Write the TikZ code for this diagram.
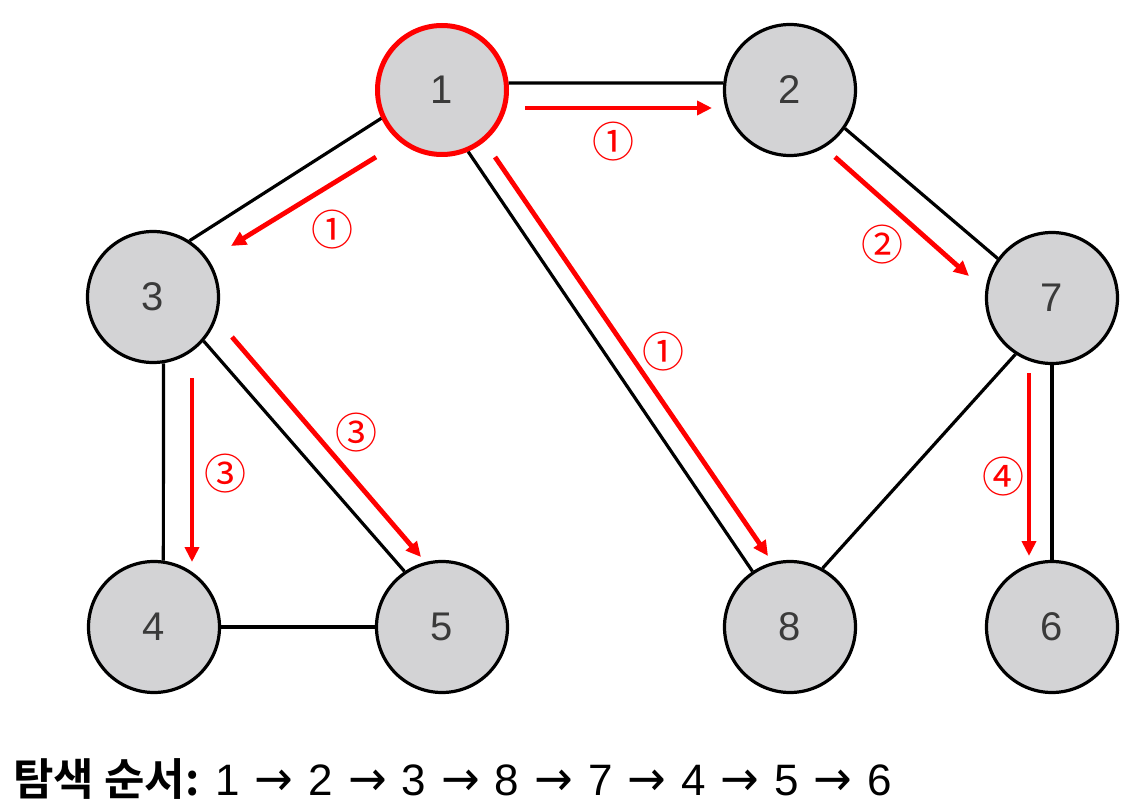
\documentclass[tikz,border=0pt]{standalone}
\usepackage{fontspec}
\setmainfont{Liberation Sans}
\newfontfamily\krfont{Noto Sans CJK KR}[BoldFont={* Bold}]
\newfontfamily\circfont{Noto Sans CJK KR}
\newfontfamily\arrfont{DejaVu Sans}
\usetikzlibrary{arrows.meta}
\definecolor{nodegray}{HTML}{D3D3D5}
\definecolor{digitgray}{HTML}{3A3A3A}
\newcommand{\seqarrow}{\hspace{15pt}{\arrfont\scalebox{1.05}[1.1]{→}}\hspace{15pt}}
\begin{document}
\begin{tikzpicture}[x=1pt,y=-1pt,
  vert/.style={circle,draw=black,line width=3.2pt,fill=nodegray,minimum size=131pt,inner sep=0pt,
    font=\fontsize{40}{40}\selectfont,text=digitgray},
  startvert/.style={vert,draw=red,line width=5pt,minimum size=129pt},
  edge/.style={line width=3.2pt,black},
  visit/.style={red,line width=4.8pt,-{Triangle[length=15pt,width=14pt]}},
  order/.style={red,font=\circfont\fontsize{42}{42}\selectfont,inner sep=0pt}]
\useasboundingbox (0,0) rectangle (1133,805);
% nodes
\node[startvert] (n1) at (442,90) {1};
\node[vert] (n2) at (790,90) {2};
\node[vert] (n3) at (153,297) {3};
\node[vert] (n7) at (1052,298) {7};
\node[vert] (n4) at (154,627) {4};
\node[vert] (n5) at (442,627) {5};
\node[vert] (n8) at (790,627) {8};
\node[vert] (n6) at (1052,627) {6};
% edges
\draw[edge] (n1.6) -- (n2.174);
\draw[edge] (n3.57) -- (n1.205);
\draw[edge] (n1.-67) -- (n8.124);
\draw[edge] (n2.-35) -- (n7.144);
\draw[edge] (n3.-81) -- (n4.82);
\draw[edge] (n3.-41) -- (n5.124);
\draw[edge] (n4.0) -- (n5.180);
\draw[edge] (n7.237) -- (n8.61);
\draw[edge] (n7.-90) -- (n6.90);
% visit arrows
\coordinate (a12s) at (525,108); \coordinate (a12e) at (712,108);
\coordinate (a13s) at (376,157); \coordinate (a13e) at (231,246);
\coordinate (a18s) at (495,157); \coordinate (a18e) at (768,556);
\coordinate (a27s) at (835,157); \coordinate (a27e) at (969,276);
\coordinate (a35s) at (232,337); \coordinate (a35e) at (421,557);
\coordinate (a34s) at (192,378); \coordinate (a34e) at (192,562);
\coordinate (a76s) at (1029,373); \coordinate (a76e) at (1029,556);
\draw[visit] (a12s) -- (a12e);
\draw[visit] (a13s) -- (a13e);
\draw[visit] (a18s) -- (a18e);
\draw[visit] (a27s) -- (a27e);
\draw[visit] (a35s) -- (a35e);
\draw[visit] (a34s) -- (a34e);
\draw[visit] (a76s) -- (a76e);
% order labels
\node[order] (l12) at (613,142) {①};
\node[order] (l13) at (332,230) {①};
\node[order] (l18) at (663,352) {①};
\node[order] (l27) at (882,245) {②};
\node[order] (l35) at (356,433) {③};
\node[order] (l34) at (225,474) {③};
\node[order] (l76) at (1003,477) {④};
% search order
\node[anchor=base west,inner sep=0pt,font=\fontsize{44}{44}\selectfont] (seq) at (13,795)
  {{\krfont\fontsize{44}{44}\selectfont\bfseries 탐색 순서:}\hspace{16pt}1\seqarrow 2\seqarrow 3\seqarrow 8\seqarrow 7\seqarrow 4\seqarrow 5\seqarrow 6};
\end{tikzpicture}
\end{document}
